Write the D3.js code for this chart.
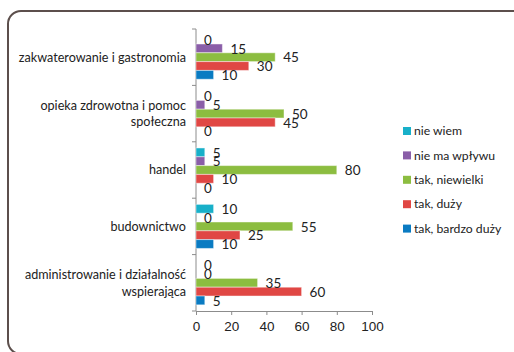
<!DOCTYPE html>
<html>
<head>
<meta charset="utf-8">
<script src="https://cdn.jsdelivr.net/npm/d3@7"></script>
<style>
  html, body { margin: 0; padding: 0; background: #fff; }
  svg { display: block; font-family: Lato, "Open Sans", sans-serif; }
</style>
</head>
<body>
<svg id="chart"></svg>
<script>
const W = 514;
const H = 352;

// ── Data ──────────────────────────────────────────────────────────────────────

const CATEGORIES = [
  ['zakwaterowanie i gastronomia'],
  ['opieka zdrowotna i pomoc', 'społeczna'],
  ['handel'],
  ['budownictwo'],
  ['administrowanie i działalność', 'wspierająca'],
];

const SERIES = ['nie wiem', 'nie ma wpływu', 'tak, niewielki', 'tak, duży', 'tak, bardzo duży'];

// one row per category, values in SERIES order
const VALUES = [
  [0, 15, 45, 30, 10],
  [0, 5, 50, 45, 0],
  [5, 5, 80, 10, 0],
  [10, 0, 55, 25, 10],
  [0, 0, 35, 60, 5],
];

const X_TICKS = [0, 20, 40, 60, 80, 100];

// ── Colors ────────────────────────────────────────────────────────────────────

const COLORS = ['#18b0c9', '#8a5ea8', '#8cbd40', '#e04744', '#0a7bc2'];
const TEXT = '#222';
const AXIS = '#8c8c8c';

// ── Setup ─────────────────────────────────────────────────────────────────────

const svg = d3.select('#chart').attr('width', W).attr('height', H);

// rounded frame, running off the right/bottom edge
svg.append('rect')
  .attr('x', 8).attr('y', 11)
  .attr('width', 520).attr('height', 343)
  .attr('rx', 13)
  .attr('fill', 'none')
  .attr('stroke', '#5c4f4c')
  .attr('stroke-width', 2);

const plot = { left: 196, right: 372, top: 29, bottom: 311 };

const x = d3.scaleLinear().domain([0, 100]).range([plot.left, plot.right]);
const y = d3.scaleBand().domain(d3.range(CATEGORIES.length)).range([plot.top, plot.bottom]);
const inner = d3.scaleBand().domain(d3.range(SERIES.length))
  .range([0, y.bandwidth()]).paddingOuter(0.7);

// ── Axes ──────────────────────────────────────────────────────────────────────

const xAxis = svg.append('g')
  .attr('transform', `translate(0,${plot.bottom})`)
  .call(d3.axisBottom(x).tickValues(X_TICKS).tickSize(4).tickSizeOuter(0));
xAxis.select('.domain').attr('stroke', AXIS);
xAxis.selectAll('.tick line').attr('stroke', AXIS);
xAxis.selectAll('.tick text')
  .attr('fill', TEXT).attr('font-size', 13.5).attr('font-family', null).attr('dy', '0.95em');

// y axis: line plus ticks at band boundaries
const yEdges = d3.range(CATEGORIES.length + 1).map(i => i < CATEGORIES.length ? y(i) : plot.bottom);
svg.append('line')
  .attr('x1', plot.left).attr('x2', plot.left)
  .attr('y1', plot.top).attr('y2', plot.bottom)
  .attr('stroke', AXIS);
svg.append('g').selectAll('line')
  .data(yEdges)
  .join('line')
  .attr('x1', plot.left - 4).attr('x2', plot.left)
  .attr('y1', d => d).attr('y2', d => d)
  .attr('stroke', AXIS);

// category labels
const catLabels = svg.append('g').selectAll('text')
  .data(CATEGORIES)
  .join('text')
  .attr('text-anchor', 'end')
  .attr('fill', TEXT)
  .attr('font-size', 12.6)
  .attr('y', (d, i) => y(i) + y.bandwidth() / 2 - (d.length - 1) * 8.3);
catLabels.selectAll('tspan')
  .data(d => d)
  .join('tspan')
  .attr('x', plot.left - 10)
  .attr('dy', (d, i) => i === 0 ? '0.35em' : 16.6)
  .text(d => d);

// ── Bars ──────────────────────────────────────────────────────────────────────

const groups = svg.append('g').selectAll('g')
  .data(VALUES)
  .join('g')
  .attr('transform', (d, i) => `translate(0,${y(i)})`);

groups.selectAll('rect')
  .data(d => d)
  .join('rect')
  .attr('x', x(0))
  .attr('y', (d, j) => inner(j))
  .attr('width', d => x(d) - x(0))
  .attr('height', inner.bandwidth())
  .attr('fill', (d, j) => COLORS[j])
  .attr('stroke', d => d > 0 ? 'rgba(255,255,255,0.45)' : 'none')
  .attr('stroke-width', 1);

groups.selectAll('text')
  .data(d => d)
  .join('text')
  .attr('x', d => x(d) + 8)
  .attr('y', (d, j) => inner(j) + inner.bandwidth() / 2)
  .attr('dy', '0.38em')
  .attr('fill', TEXT)
  .attr('font-size', 13.5)
  .text(d => d);

// ── Legend ────────────────────────────────────────────────────────────────────

const legend = svg.append('g').selectAll('g')
  .data(SERIES)
  .join('g')
  .attr('transform', (d, i) => `translate(403,${131 + i * 24.4})`);

legend.append('rect')
  .attr('x', 0).attr('y', -4)
  .attr('width', 8).attr('height', 8)
  .attr('fill', (d, i) => COLORS[i]);

legend.append('text')
  .attr('x', 11)
  .attr('dy', '0.35em')
  .attr('fill', TEXT)
  .attr('font-size', 12.2)
  .text(d => d);
</script>
</body>
</html>
